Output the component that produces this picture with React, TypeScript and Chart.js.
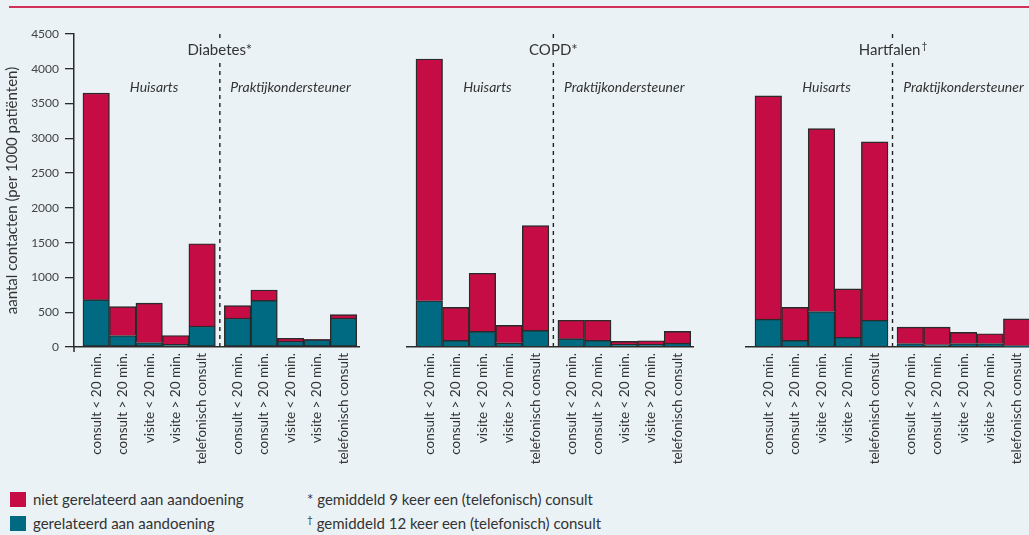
import React, { useEffect, useRef } from "react";
import { Chart, registerables } from "chart.js";

Chart.register(...registerables);

// ---------- data ----------
const categories = [
  "consult < 20 min.",
  "consult > 20 min.",
  "visite < 20 min.",
  "visite > 20 min.",
  "telefonisch consult",
  "consult < 20 min.",
  "consult > 20 min.",
  "visite < 20 min.",
  "visite > 20 min.",
  "telefonisch consult",
];
// position of each category on the x axis (small gap between the two groups)
const barPositions = [0, 1, 2, 3, 4, 5.34, 6.34, 7.34, 8.34, 9.34];
const groupLabels = ["Huisarts", "Praktijkondersteuner"];
const panelTitles = ["Diabetes*", "COPD*", "Hartfalen"];
const panelTitleMarks = ["", "", "†"];
const yTicks = [0, 500, 1000, 1500, 2000, 2500, 3000, 3500, 4000, 4500];
const seriesNames = ["gerelateerd aan aandoening", "niet gerelateerd aan aandoening"];

// gerelateerd (teal, bottom) / niet gerelateerd (red, top)
const diabetesRelated = [680, 165, 65, 40, 300, 415, 670, 85, 105, 415];
const diabetesUnrelated = [2970, 415, 565, 125, 1185, 180, 150, 40, 5, 50];
const copdRelated = [665, 95, 225, 60, 240, 120, 95, 40, 40, 55];
const copdUnrelated = [3475, 475, 835, 250, 1505, 265, 290, 40, 50, 170];
const hartRelated = [400, 95, 510, 140, 385, 50, 35, 50, 50, 20];
const hartUnrelated = [3210, 475, 2630, 695, 2565, 235, 250, 160, 140, 385];

const footnotes = [
  { mark: "*", text: " gemiddeld 9 keer een (telefonisch) consult" },
  { mark: "†", text: " gemiddeld 12 keer een (telefonisch) consult" },
];

// ---------- styles ----------
const RED = "#c60c44";
const TEAL = "#006a83";
const BORDER = "#2a2a2a";
const BG = "#eaf2f5";
const TEXT = "#333333";
const FONT = "Lato, 'Open Sans', sans-serif";

type PanelProps = {
  index: number;
  related: number[];
  unrelated: number[];
  left: number;
  width: number;
  padLeft: number;
  padRight: number;
  showY: boolean;
};

const CANVAS_H = 480;
const AREA_TOP = 34;
const AREA_BOTTOM = 347;

function Panel(p: PanelProps) {
  const ref = useRef<HTMLCanvasElement | null>(null);
  useEffect(() => {
    if (!ref.current) return;
    const annot = {
      id: "annot" + p.index,
      afterDraw(chart: any) {
        const { ctx, scales } = chart;
        const xs = scales.x;
        const ys = scales.y;
        const top = ys.getPixelForValue(4500);
        const bottom = ys.getPixelForValue(0);
        const dx = xs.getPixelForValue((barPositions[4] + barPositions[5]) / 2);
        ctx.save();
        // dashed separator (interrupted by the title)
        ctx.strokeStyle = "#222";
        ctx.lineWidth = 1.4;
        ctx.setLineDash([4, 4]);
        ctx.beginPath();
        ctx.moveTo(dx, top);
        ctx.lineTo(dx, top + 5);
        ctx.moveTo(dx, top + 29);
        ctx.lineTo(dx, bottom - 1);
        ctx.stroke();
        ctx.setLineDash([]);
        // panel title
        ctx.fillStyle = TEXT;
        ctx.textBaseline = "middle";
        ctx.font = "15px " + FONT;
        const t = panelTitles[p.index];
        const m = panelTitleMarks[p.index];
        const tw = ctx.measureText(t).width;
        ctx.font = "10px " + FONT;
        const mw = m ? ctx.measureText(m).width : 0;
        const startX = dx - (tw + mw) / 2;
        ctx.font = "15px " + FONT;
        ctx.textAlign = "left";
        ctx.fillText(t, startX, top + 16);
        if (m) {
          ctx.font = "10px " + FONT;
          ctx.fillText(m, startX + tw + 1, top + 12);
        }
        // group labels
        ctx.font = "italic 14px " + FONT;
        ctx.textAlign = "center";
        ctx.fillText(groupLabels[0], xs.getPixelForValue(barPositions[2]) + 5, top + 53);
        ctx.fillText(groupLabels[1], xs.getPixelForValue(barPositions[7]), top + 53);
        // y axis slight overhang below x axis
        if (p.showY) {
          ctx.strokeStyle = BORDER;
          ctx.lineWidth = 1.5;
          ctx.beginPath();
          ctx.moveTo(chart.chartArea.left, bottom);
          ctx.lineTo(chart.chartArea.left, bottom + 5);
          ctx.stroke();
        }
        ctx.restore();
      },
    };

    const chart = new Chart(ref.current, {
      type: "bar",
      data: {
        datasets: [
          {
            label: seriesNames[0],
            data: p.related.map((v, i) => ({ x: barPositions[i], y: v })),
            backgroundColor: TEAL,
            borderColor: BORDER,
            borderWidth: 1.4,
            borderSkipped: false,
          },
          {
            label: seriesNames[1],
            data: p.unrelated.map((v, i) => ({ x: barPositions[i], y: v })),
            backgroundColor: RED,
            borderColor: BORDER,
            borderWidth: 1.4,
            borderSkipped: "start",
          },
        ],
      } as any,
      options: {
        animation: false,
        responsive: false,
        maintainAspectRatio: false,
        categoryPercentage: 1,
        barPercentage: 1,
        layout: {
          padding: { left: p.padLeft, right: p.padRight, top: AREA_TOP, bottom: 0 },
        },
        plugins: {
          legend: { display: false },
          tooltip: { enabled: false },
          title: { display: false },
        },
        scales: {
          x: {
            type: "linear",
            stacked: true,
            offset: false,
            min: -0.838,
            max: 9.952,
            grid: { display: false, drawTicks: false, tickLength: 0, offset: false },
            border: { display: true, color: BORDER, width: 1.5 },
            afterBuildTicks: (scale: any) => {
              scale.ticks = barPositions.map((v) => ({ value: v }));
            },
            afterFit: (scale: any) => {
              scale.height = CANVAS_H - AREA_BOTTOM;
            },
            ticks: {
              autoSkip: false,
              minRotation: 90,
              maxRotation: 90,
              padding: 6,
              color: TEXT,
              font: { family: FONT, size: 13.5 },
              callback: (_v: any, i: number) => categories[i],
            },
          },
          y: {
            type: "linear",
            stacked: true,
            display: p.showY,
            min: 0,
            max: 4500,
            afterBuildTicks: (scale: any) => {
              scale.ticks = yTicks.map((v) => ({ value: v }));
            },
            afterFit: (scale: any) => {
              if (p.showY) scale.width = 74;
            },
            grid: {
              display: true,
              drawOnChartArea: false,
              drawTicks: true,
              tickLength: 9,
              color: BORDER,
              lineWidth: 1.3,
            },
            border: { display: true, color: BORDER, width: 1.5 },
            ticks: {
              padding: 6,
              color: "#444",
              font: { family: FONT, size: 12 },
              callback: (v: any) => String(v),
            },
            title: {
              display: true,
              text: "aantal contacten (per 1000 patiënten)",
              color: TEXT,
              font: { family: FONT, size: 15 },
              padding: { top: 3, bottom: 0 },
            },
          },
        },
      } as any,
      plugins: [annot],
    });
    return () => chart.destroy();
  }, []);
  return (
    <canvas
      ref={ref}
      width={p.width}
      height={CANVAS_H}
      style={{ position: "absolute", left: p.left, top: 0, width: p.width, height: CANVAS_H }}
    />
  );
}

const legendItems = [
  { color: RED, label: seriesNames[1] },
  { color: TEAL, label: seriesNames[0] },
];

export default function App() {
  return (
    <div
      style={{
        position: "absolute",
        left: 0,
        top: 0,
        width: 1029,
        height: 535,
        overflow: "hidden",
        background: BG,
        fontFamily: FONT,
        color: TEXT,
      }}
    >
      <div style={{ position: "absolute", left: 9, top: 6, width: 1020, height: 1.5, background: "#d2315b" }} />
      <Panel index={0} related={diabetesRelated} unrelated={diabetesUnrelated} left={0} width={366} padLeft={0} padRight={5} showY={true} />
      <Panel index={1} related={copdRelated} unrelated={copdUnrelated} left={400} width={300} padLeft={7} padRight={6} showY={false} />
      <Panel index={2} related={hartRelated} unrelated={hartUnrelated} left={740} width={300} padLeft={6} padRight={7} showY={false} />
      {legendItems.map((it, i) => (
        <div key={i} style={{ position: "absolute", left: 10, top: 491 + i * 24, height: 17, display: "flex", alignItems: "center" }}>
          <div style={{ width: 16, height: 15, background: it.color }} />
          <div style={{ marginLeft: 7, fontSize: 15, lineHeight: "17px", whiteSpace: "nowrap" }}>{it.label}</div>
        </div>
      ))}
      {footnotes.map((f, i) => (
        <div key={i} style={{ position: "absolute", left: 307, top: 491 + i * 24, height: 17, fontSize: 15, lineHeight: "17px", whiteSpace: "nowrap" }}>
          {i === 1 ? <sup style={{ fontSize: 10, verticalAlign: "6px", lineHeight: 0 }}>{f.mark}</sup> : f.mark}
          {f.text}
        </div>
      ))}
    </div>
  );
}
